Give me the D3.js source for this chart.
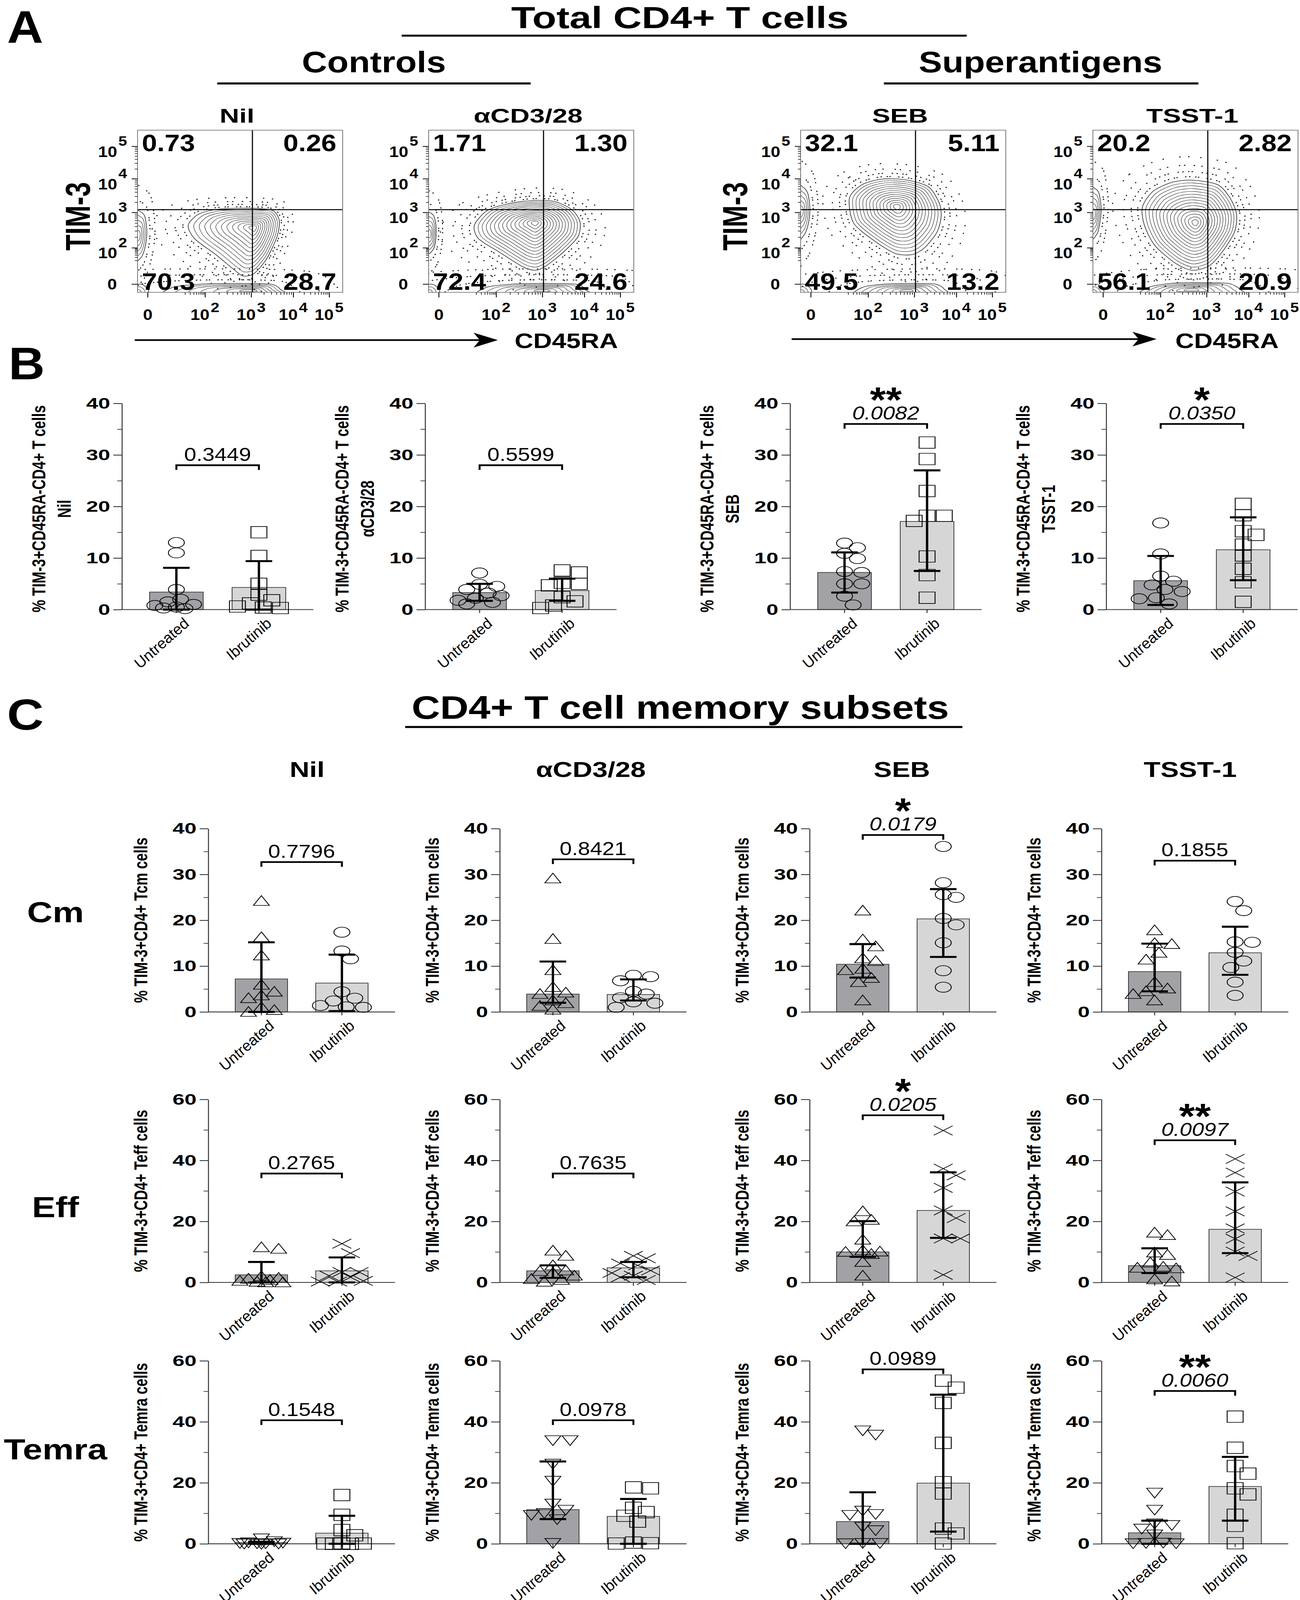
<!DOCTYPE html>
<html>
<head>
<meta charset="utf-8">
<script src="https://cdn.jsdelivr.net/npm/d3@7"></script>
<style>
html, body { margin: 0; padding: 0; background: #fff; overflow: hidden; }
#fig svg { display: block; width: 100vw; height: 100vh; }
</style>
</head>
<body>
<div id="fig"></div>
<script>
// ---------------- data ----------------
const groups = ["Untreated", "Ibrutinib"];
const stimuli = ["Nil", "αCD3/28", "SEB", "TSST-1"];

// Panel A: quadrant percentages [UL, UR, LL, LR]
const quadPct = [
  ["0.73", "0.26", "70.3", "28.7"],
  ["1.71", "1.30", "72.4", "24.6"],
  ["32.1", "5.11", "49.5", "13.2"],
  ["20.2", "2.82", "56.1", "20.9"]
];
// flow axes: decade ticks and their display position (% of plot)
const flowDecades = [0, 2, 3, 4, 5];
const flowXPos = [5, 33, 55.5, 76, 93.5];
const flowYPos = [5, 27.4, 49.2, 70, 90];
const gatePos = [56, 51];
// contour outlines (display %)
const mainOutline = [
  [[24.7,41.4],[29.9,48.3],[40.2,51.4],[56.7,51.8],[66.0,50.4],[69.1,44.2],[68.0,34.4],[62.9,20.6],[56.7,11.5],[51.5,10.1],[47.4,13.6],[38.1,23.3],[27.8,33.1]],
  [[22.3,41.4],[28.5,50.4],[38.8,54.6],[51.1,56.7],[61.4,56.0],[69.7,51.1],[73.8,43.5],[72.8,34.4],[65.6,24.7],[57.3,16.4],[52.2,13.6],[46.0,15.7],[34.6,24.7],[24.3,33.1]],
  [[23.8,58.1],[29.9,66.4],[40.0,69.9],[52.2,69.2],[62.4,65.0],[67.5,55.3],[68.5,46.9],[66.5,37.2],[60.4,27.5],[54.3,23.3],[46.1,24.0],[36.0,31.7],[25.8,42.8]],
  [[24.1,52.5],[29.2,62.2],[38.4,67.8],[48.6,69.2],[60.8,66.4],[66.9,58.1],[70.0,48.3],[69.0,37.2],[62.9,24.7],[56.7,16.4],[48.6,13.6],[40.4,17.8],[30.2,28.9],[25.1,41.4]]
];
const mainPeak = [[57, 40], [52, 43], [47, 53], [50, 43]];
const bandOutline = [
  [[15,-2],[17,3],[30,5],[48,5.5],[65,5],[69.5,2],[69,-2]],
  [[26,-2],[28,3],[40,5],[55,5.5],[72,5],[76,2],[76,-2]],
  [[28,-2],[30,3],[40,5],[55,5.5],[66,5],[70,2],[70,-2]],
  [[25,-2],[27,3],[38,5.5],[52,6],[66,5.5],[71.5,2],[71.5,-2]]
];
const bandPeak = [[56, 1], [56, 1], [52, 1], [48, 1.5]];
const edgeOutline = [
  [[-2,20],[2,22],[4,30],[4.5,38],[3.5,47],[1,50],[-2,50]],
  [[-2,24],[2,26],[3.5,33],[3.5,42],[2,48],[-2,48]],
  [[-2,33],[2,36],[4,44],[4.5,52],[3.5,61],[1,65],[-2,65]],
  [[-2,33],[2,36],[3.5,44],[4,52],[3,61],[1,64],[-2,64]]
];
const edgePeak = [[0.5, 35], [0.5, 36], [0.5, 50], [0.5, 48]];
const cornerOutline = [[-2,-2],[-2,4],[2,5],[5,2],[5,-2]];

// Panel B: % TIM-3+CD45RA-CD4+ T cells
const totalUntreated = [
  [13.0, 11.0, 3.9, 2.0, 1.5, 1.0, 0.8, 0.5, 0.3, 0.2],
  [7.1, 4.9, 4.5, 3.9, 3.2, 2.7, 2.2, 1.8, 1.4, 1.1],
  [12.9, 12.0, 10.9, 9.9, 7.4, 7.2, 5.0, 5.0, 2.6, 0.9],
  [16.8, 10.8, 6.5, 5.5, 4.8, 3.9, 3.5, 2.3, 2.1, 1.1]
];
const totalIbrutinib = [
  [15.0, 10.4, 5.0, 2.9, 1.8, 1.2, 0.6, 0.4, 0.3],
  [7.6, 7.2, 5.2, 5.0, 4.7, 2.4, 1.6, 0.8, 0.3],
  [32.4, 29.2, 23.0, 18.2, 18.2, 17.2, 10.3, 6.7, 2.3],
  [20.5, 18.3, 15.2, 14.5, 12.6, 10.5, 7.9, 5.3, 1.5]
];
const totalBar = [[3.4, 4.3], [3.3, 3.7], [7.2, 17.1], [5.6, 11.6]];
const totalLow = [[0, 0], [1.7, 1.7], [3.3, 7.5], [0.9, 5.7]];
const totalHigh = [[8.1, 9.4], [5.0, 6.0], [11.1, 27.0], [10.4, 17.9]];
const totalP = ["0.3449", "0.5599", "0.0082", "0.0350"];
const totalStars = ["", "", "**", "*"];

// Panel C, Tcm
const cmUntreated = [
  [24.2, 16.3, 12.3, 5.9, 4.4, 3.6, 3.0, 1.0, 0.4, 0.0],
  [29.1, 15.9, 9.1, 5.4, 4.2, 3.9, 2.5, 1.9, 1.3, 0.5],
  [22.1, 15.8, 14.3, 11.7, 11.1, 9.4, 9.1, 7.4, 6.5, 2.5],
  [17.8, 15.0, 14.8, 12.9, 11.4, 6.5, 5.1, 4.5, 3.9, 2.5]
];
const cmIbrutinib = [
  [17.4, 13.3, 11.6, 4.4, 3.0, 2.4, 1.4, 1.1, 1.0],
  [8.0, 7.7, 6.8, 4.5, 3.9, 3.1, 2.2, 1.9, 1.0],
  [36.1, 28.2, 25.6, 25.0, 20.4, 19.0, 15.1, 9.0, 5.4],
  [24.1, 22.1, 15.3, 15.2, 13.0, 11.1, 9.7, 6.5, 3.6]
];
const cmBar = [[7.2, 6.3], [3.9, 3.8], [10.4, 20.3], [8.8, 12.9]];
const cmLow = [[0, 0.2], [2.0, 2.5], [7.5, 12.0], [4.5, 8.1]];
const cmHigh = [[15.2, 12.5], [11.0, 7.1], [14.8, 26.8], [14.9, 18.6]];
const cmP = ["0.7796", "0.8421", "0.0179", "0.1855"];
const cmStars = ["", "", "*", ""];

// Panel C, Teff
const effUntreated = [
  [11.5, 11.0, 2.0, 1.5, 1.2, 0.8, 0.5, 0.2, 0.0, 0.0],
  [10.4, 8.7, 5.6, 3.9, 3.7, 3.1, 2.2, 1.1, 0.8, 0.2],
  [23.3, 20.5, 20.0, 14.0, 10.5, 10.1, 10.0, 9.3, 6.7, 2.2],
  [16.3, 15.5, 9.8, 9.0, 6.5, 5.1, 4.8, 4.6, 1.0, 0.3]
];
const effIbrutinib = [
  [12.7, 9.6, 3.4, 3.4, 2.2, 1.7, 0.5, 0.3, 0.3],
  [8.7, 7.9, 6.2, 5.6, 3.9, 3.1, 2.2, 1.7, 0.8],
  [49.8, 37.3, 35.1, 31.0, 23.6, 21.1, 14.4, 14.4, 2.5],
  [40.5, 36.0, 29.8, 23.3, 17.7, 14.3, 10.1, 8.7, 1.6]
];
const effBar = [[2.5, 3.8], [3.8, 4.8], [10.0, 23.6], [5.5, 17.4]];
const effLow = [[0, 0], [1.5, 1.7], [8.4, 14.6], [3.1, 9.6]];
const effHigh = [[6.7, 8.2], [5.6, 6.7], [20.1, 36.1], [11.2, 32.8]];
const effP = ["0.2765", "0.7635", "0.0205", "0.0097"];
const effStars = ["", "", "*", "**"];

// Panel C, Temra
const temraUntreated = [
  [1.8, 0.9, 0.5, 0.4, 0.3, 0.2, 0.2, 0.1, 0.1, 0.0],
  [34.0, 34.0, 26.3, 20.7, 13.2, 11.2, 10.1, 9.5, 8.1, 0.3],
  [37.2, 35.8, 10.9, 9.8, 9.5, 5.6, 4.5, 0.3, 0.3, 0.2],
  [16.8, 11.2, 6.7, 6.2, 5.0, 3.1, 0.4, 0.3, 0.2, 0.2]
];
const temraIbrutinib = [
  [16.0, 9.5, 4.5, 2.8, 0.2, 0.1, 0.1, 0.0, 0.0],
  [18.5, 18.2, 11.8, 10.4, 9.2, 7.3, 0.4, 0.2, 0.1],
  [53.5, 51.2, 46.2, 33.1, 20.2, 16.5, 5.0, 3.4, 0.1],
  [41.7, 31.5, 25.5, 23.0, 18.2, 16.2, 9.5, 5.9, 0.2]
];
const temraBar = [[0.4, 3.5], [11.2, 9.0], [7.3, 19.9], [3.6, 18.8]];
const temraLow = [[0, 0], [8.1, 0], [0, 4.0], [0, 7.6]];
const temraHigh = [[0.7, 9.2], [27.0, 14.7], [16.9, 48.9], [7.6, 28.5]];
const temraP = ["0.1548", "0.0978", "0.0989", "0.0060"];
const temraStars = ["", "", "", "**"];

// ---------------- layout ----------------
const W = 3327, H = 4756;
const SANS = "'Liberation Sans', Arial, Helvetica, sans-serif";
const flowLeft = [352, 1097, 2049, 2797], flowTop = 387, flowW = 525, flowH = 482;
const axisB = [312, 1088, 2022, 2831];
const axisC = [533, 1279, 2072, 2819];
const darkBar = "#a2a2a6", lightBar = "#d6d6d6";

const svg = d3.select("#fig").append("svg")
  .attr("viewBox", `0 0 ${W} ${H}`)
  .attr("preserveAspectRatio", "none");
svg.append("rect").attr("width", W).attr("height", H).attr("fill", "#fff");

// text helper: optional horizontal stretch sx like the original export
function txt(sel, x, y, s, o) {
  const g = sel.append("g")
    .attr("transform", `translate(${x},${y}) scale(${o.sx || 1},1)` + (o.rot ? ` rotate(${o.rot})` : ""));
  g.append("text")
    .attr("text-anchor", o.anchor || "middle")
    .attr("font-family", SANS)
    .attr("font-size", o.size)
    .attr("font-weight", o.weight || "normal")
    .attr("font-style", o.italic ? "italic" : "normal")
    .attr("fill", "#000")
    .text(s);
  return g;
}
function hline(x1, x2, y, w) {
  svg.append("line").attr("x1", x1).attr("x2", x2).attr("y1", y).attr("y2", y)
    .attr("stroke", "#000").attr("stroke-width", w);
}

// ---------------- headings ----------------
txt(svg, 18, 128, "A", {size: 135, weight: "bold", anchor: "start", sx: 0.95});
txt(svg, 22, 1128, "B", {size: 135, weight: "bold", anchor: "start", sx: 0.95});
txt(svg, 18, 2169, "C", {size: 130, weight: "bold", anchor: "start", sx: 1.0});

txt(svg, 1740, 84, "Total CD4+ T cells", {size: 90, weight: "bold", sx: 1.12});
hline(1028, 2474, 106, 6);
txt(svg, 957, 215, "Controls", {size: 88, weight: "bold", sx: 1.02});
hline(556, 1358, 248, 6);
txt(svg, 2663, 215, "Superantigens", {size: 88, weight: "bold", sx: 1.02});
hline(2262, 3067, 248, 6);

txt(svg, 1741, 2137, "CD4+ T cell memory subsets", {size: 96, weight: "bold", sx: 1.05});
hline(1037, 2463, 2161, 6);
const colTitleX = [786, 1512, 2308, 3046];
stimuli.forEach((s, i) => txt(svg, colTitleX[i], 2310, s, {size: 65, weight: "bold", sx: 1.08}));
txt(svg, 142, 2741, "Cm", {size: 86, weight: "bold", sx: 1.05});
txt(svg, 142, 3618, "Eff", {size: 86, weight: "bold", sx: 1.05});
txt(svg, 142, 4338, "Temra", {size: 86, weight: "bold", sx: 1.05});

// ---------------- panel A: flow plots ----------------
function arrow(x1, x2, y) {
  svg.append("line").attr("x1", x1).attr("x2", x2 - 40).attr("y1", y).attr("y2", y)
    .attr("stroke", "#000").attr("stroke-width", 5);
  svg.append("path")
    .attr("d", `M${x2},${y} L${x2 - 62},${y - 22} L${x2 - 46},${y} L${x2 - 62},${y + 22} Z`)
    .attr("fill", "#000");
}
arrow(345, 1274, 1011);
arrow(2026, 2960, 1008);
txt(svg, 1317, 1035, "CD45RA", {size: 63, weight: "bold", anchor: "start", sx: 1.05});
txt(svg, 3008, 1035, "CD45RA", {size: 63, weight: "bold", anchor: "start", sx: 1.05});
txt(svg, 230, 643, "TIM-3", {size: 78, weight: "bold", sx: 1.15, rot: -90});
txt(svg, 1912, 643, "TIM-3", {size: 78, weight: "bold", sx: 1.15, rot: -90});

const dotPatterns = ["1 9 1 15 1 6 1 21", "1 14 1 8 1 25 1 11", "1 19 1 30 1 12 1 24", "1 30 1 42 1 22"];

function flowPlot(i) {
  const left = flowLeft[i], bottom = flowTop + flowH;
  const x = d3.scaleLinear().domain([0, 100]).range([left, left + flowW]);
  const y = d3.scaleLinear().domain([0, 100]).range([bottom, flowTop]);
  const xDec = d3.scaleLinear().domain(flowDecades).range(flowXPos);
  const yDec = d3.scaleLinear().domain(flowDecades).range(flowYPos);
  const g = svg.append("g");
  const clipId = "clip" + i;
  g.append("clipPath").attr("id", clipId).append("rect")
    .attr("x", left).attr("y", flowTop).attr("width", flowW).attr("height", flowH);
  const inner = g.append("g").attr("clip-path", `url(#${clipId})`);
  const line = d3.line().x(d => x(d[0])).y(d => y(d[1])).curve(d3.curveCardinalClosed.tension(0.2));
  const shrink = (outline, peak, t) => outline.map(p => [peak[0] + (p[0] - peak[0]) * t, peak[1] + (p[1] - peak[1]) * t]);

  function rings(outline, peak, n) {
    d3.range(n).forEach(k => {
      const t = 1 - k / n;
      inner.append("path").attr("d", line(shrink(outline, peak, t)))
        .attr("fill", "none").attr("stroke", "#3a3a3a").attr("stroke-width", k === 0 ? 1.8 : 1.3);
    });
  }
  function halo(outline, peak, ts) {
    ts.forEach((t, k) => {
      inner.append("path").attr("d", line(shrink(outline, peak, t)))
        .attr("fill", "none").attr("stroke", "#111").attr("stroke-width", 3)
        .attr("stroke-dasharray", dotPatterns[k % dotPatterns.length])
        .attr("stroke-dashoffset", 7 * k + 3 * i).attr("stroke-linecap", "round");
    });
  }
  halo(mainOutline[i], mainPeak[i], [1.08, 1.2, 1.35, 1.55]);
  halo(bandOutline[i], bandPeak[i], [1.5, 2.2, 3.0]);
  halo(edgeOutline[i], edgePeak[i], [1.4, 2.0]);
  rings(mainOutline[i], mainPeak[i], [12, 15, 14, 15][i]);
  rings(bandOutline[i], bandPeak[i], 7);
  rings(edgeOutline[i], edgePeak[i], 5);
  rings(cornerOutline, [0, 0], 3);

  // gates
  inner.append("line").attr("x1", x(gatePos[0])).attr("x2", x(gatePos[0]))
    .attr("y1", flowTop).attr("y2", bottom).attr("stroke", "#000").attr("stroke-width", 2.8);
  inner.append("line").attr("x1", left).attr("x2", left + flowW)
    .attr("y1", y(gatePos[1])).attr("y2", y(gatePos[1])).attr("stroke", "#000").attr("stroke-width", 2.8);
  g.append("rect").attr("x", left).attr("y", flowTop).attr("width", flowW).attr("height", flowH)
    .attr("fill", "none").attr("stroke", "#777").attr("stroke-width", 2);

  // ticks
  const minor = [];
  [1, 2, 3, 4].forEach(d => d3.range(2, 10).forEach(m => minor.push(d + Math.log10(m))));
  minor.forEach(v => {
    g.append("line").attr("x1", x(xDec(v))).attr("x2", x(xDec(v))).attr("y1", bottom).attr("y2", bottom + 7)
      .attr("stroke", "#000").attr("stroke-width", 1.6);
    g.append("line").attr("y1", y(yDec(v))).attr("y2", y(yDec(v))).attr("x1", left).attr("x2", left - 7)
      .attr("stroke", "#000").attr("stroke-width", 1.6);
  });
  flowDecades.forEach(d => {
    const px = x(xDec(d)), py = y(yDec(d));
    g.append("line").attr("x1", px).attr("x2", px).attr("y1", bottom).attr("y2", bottom + 15)
      .attr("stroke", "#000").attr("stroke-width", 2.2);
    g.append("line").attr("y1", py).attr("y2", py).attr("x1", left).attr("x2", left - 15)
      .attr("stroke", "#000").attr("stroke-width", 2.2);
    if (d === 0) {
      txt(g, px, bottom + 82, "0", {size: 44, weight: "bold"});
      txt(g, left - 65, py + 15, "0", {size: 44, weight: "bold"});
    } else {
      txt(g, px + 11, bottom + 82, "10", {size: 44, weight: "bold", anchor: "end"});
      txt(g, px + 14, bottom + 59, String(d), {size: 40, weight: "bold", anchor: "start"});
      txt(g, left - 52, py + 31, "10", {size: 44, weight: "bold", anchor: "end"});
      txt(g, left - 49, py - 2, String(d), {size: 40, weight: "bold", anchor: "start"});
    }
  });

  // quadrant percentages
  const q = quadPct[i];
  txt(g, left + 11, flowTop + 62, q[0], {size: 70, weight: "bold", anchor: "start"});
  txt(g, left + flowW - 16, flowTop + 62, q[1], {size: 70, weight: "bold", anchor: "end"});
  txt(g, left + 11, bottom - 8, q[2], {size: 70, weight: "bold", anchor: "start"});
  txt(g, left + flowW - 16, bottom - 8, q[3], {size: 70, weight: "bold", anchor: "end"});

  txt(g, left + flowW / 2 - 8, 365, stimuli[i], {size: 58, weight: "bold", sx: 1.2});
}
d3.range(4).forEach(flowPlot);

// ---------------- bar + scatter panels ----------------
const markerPath = {
  circle: "M-17,0a17,15 0 1,0 34,0a17,15 0 1,0 -34,0",
  square: "M-17,-17H17V17H-17Z",
  triangle: "M0,-16L17,13H-17Z",
  triangleDown: "M0,16L17,-13H-17Z",
  cross: "M-20,-14L20,14M-20,14L20,-14"
};

function swarm(vals, y, cx) {
  const order = d3.range(vals.length).sort((a, b) => vals[b] - vals[a]);
  const cand = [0, 11, -11, 22, -22, 33, -33, 44, -44, 55, -55];
  const placed = [], out = new Array(vals.length);
  order.forEach(i => {
    const py = y(vals[i]);
    let best = 0, bestScore = -Infinity;
    for (const c of cand) {
      let minD = Infinity;
      placed.forEach(p => { minD = Math.min(minD, Math.hypot((p.x - c) / 34, (p.y - py) / 30)); });
      if (minD >= 1) { best = c; break; }
      if (minD > bestScore) { bestScore = minD; best = c; }
    }
    placed.push({x: best, y: py});
    out[i] = [cx + best, py];
  });
  return out;
}

function barPanel(o) {
  const g = svg.append("g");
  const y = d3.scaleLinear().domain([0, o.max]).range([o.y0, o.yTop]);
  const x = d3.scaleBand().domain(groups).range([o.ax, o.ax + o.len]).paddingInner(0.35).paddingOuter(0.335);
  const cx = k => x(groups[k]) + x.bandwidth() / 2;

  // bars
  g.selectAll("rect.bar").data(o.bar).join("rect").attr("class", "bar")
    .attr("x", (d, k) => x(groups[k])).attr("width", x.bandwidth())
    .attr("y", d => y(d)).attr("height", d => o.y0 - y(d))
    .attr("fill", (d, k) => k === 0 ? darkBar : lightBar)
    .attr("stroke", "#3a3a3a").attr("stroke-width", 2);

  // axes
  const ya = g.append("g").attr("transform", `translate(${o.ax},0)`)
    .call(d3.axisLeft(y).tickValues(o.major).tickSize(22).tickPadding(3).tickSizeOuter(0));
  ya.select(".domain").attr("stroke", "#333").attr("stroke-width", 2.5);
  ya.selectAll(".tick line").attr("stroke", "#333").attr("stroke-width", 2.5);
  ya.selectAll("text").attr("font-family", SANS).attr("font-size", 46).attr("font-weight", "bold")
    .attr("fill", "#000").attr("transform", "scale(1.2,1)");
  const ym = g.append("g").attr("transform", `translate(${o.ax},0)`)
    .call(d3.axisLeft(y).tickValues(o.minor).tickSize(12).tickFormat("").tickSizeOuter(0));
  ym.select(".domain").remove();
  ym.selectAll(".tick line").attr("stroke", "#333").attr("stroke-width", 2);
  const xa = g.append("g").attr("transform", `translate(0,${o.y0})`)
    .call(d3.axisBottom(x).tickSize(10).tickFormat("").tickSizeOuter(0));
  xa.select(".domain").attr("stroke", "#333").attr("stroke-width", 2.5)
    .attr("d", `M${o.ax},0H${o.ax + o.len}`);
  xa.selectAll(".tick line").attr("stroke", "#333").attr("stroke-width", 2.5);

  // points
  [o.U, o.I].forEach((vals, k) => {
    swarm(vals, y, cx(k)).forEach(([px, py]) => {
      g.append("g").attr("transform", `translate(${px},${py}) scale(1.2,1)`)
        .append("path").attr("d", markerPath[o.shapes[k]])
        .attr("fill", "none").attr("stroke", "#000").attr("stroke-width", 1.9);
    });
  });

  // error bars
  [0, 1].forEach(k => {
    const c = cx(k), lo = y(o.low[k]), hi = y(o.high[k]);
    g.append("line").attr("x1", c).attr("x2", c).attr("y1", lo).attr("y2", hi)
      .attr("stroke", "#000").attr("stroke-width", 6);
    [lo, hi].forEach(v => g.append("line").attr("x1", c - 34).attr("x2", c + 34).attr("y1", v).attr("y2", v)
      .attr("stroke", "#000").attr("stroke-width", 6));
  });

  // significance bracket with p value (and stars) as one text block
  const yb = y(o.bracket), x1 = cx(0), x2 = cx(1), mid = (x1 + x2) / 2;
  g.append("path").attr("d", `M${x1},${yb + 14}V${yb}H${x2}V${yb + 14}`)
    .attr("fill", "none").attr("stroke", "#000").attr("stroke-width", 5);
  const t = g.append("text").attr("text-anchor", "middle").attr("font-family", SANS).attr("fill", "#000");
  if (o.star) {
    t.append("tspan").attr("x", mid).attr("y", yb - 35)
      .attr("font-size", 105).attr("font-weight", "bold").text(o.star);
  }
  t.append("tspan").attr("x", mid).attr("y", yb - 13)
    .attr("font-size", 56).attr("font-style", o.star ? "italic" : "normal").text(o.p);

  // x labels
  groups.forEach((s, k) => txt(g, cx(k) + 36, o.y0 + 44, s, {size: 42, italic: true, anchor: "end", rot: -46}));

  // y label
  const yc = (o.y0 + o.yTop) / 2 + (o.yShift || 0);
  o.ylab.forEach((s, j) => txt(g, o.ax + o.ylabX[j], yc, s, {size: 42, weight: "bold", sx: 1.15, rot: -90}));
}

const rows = [
  {U: totalUntreated, I: totalIbrutinib, bar: totalBar, low: totalLow, high: totalHigh, p: totalP, st: totalStars,
   axes: axisB, y0: 1812, yTop: 1199, max: 40, len: 490, major: [0, 10, 20, 30, 40], minor: [5, 15, 25, 35],
   bracket: [28, 28, 36, 36], shapes: ["circle", "square"], lab: s => ["% TIM-3+CD45RA-CD4+ T cells", s],
   labX: [-196, -131], yShift: 7},
  {U: cmUntreated, I: cmIbrutinib, bar: cmBar, low: cmLow, high: cmHigh, p: cmP, st: cmStars,
   axes: axisC, y0: 3008, yTop: 2463, max: 40, len: 478, major: [0, 10, 20, 30, 40], minor: [5, 15, 25, 35],
   bracket: [32.7, 33.3, 38.6, 33], shapes: ["triangle", "circle"], lab: () => ["% TIM-3+CD4+ Tcm cells"], labX: [-156]},
  {U: effUntreated, I: effIbrutinib, bar: effBar, low: effLow, high: effHigh, p: effP, st: effStars,
   axes: axisC, y0: 3812, yTop: 3268, max: 60, len: 478, major: [0, 20, 40, 60], minor: [10, 30, 50],
   bracket: [35.7, 35.7, 54.8, 46.6], shapes: ["triangle", "cross"], lab: () => ["% TIM-3+CD4+ Teff cells"], labX: [-156]},
  {U: temraUntreated, I: temraIbrutinib, bar: temraBar, low: temraLow, high: temraHigh, p: temraP, st: temraStars,
   axes: axisC, y0: 4589, yTop: 4045, max: 60, len: 478, major: [0, 20, 40, 60], minor: [10, 30, 50],
   bracket: [40.5, 40.5, 57.2, 50.1], shapes: ["triangleDown", "square"], lab: () => ["% TIM-3+CD4+ Temra cells"], labX: [-156]}
];

rows.forEach(r => {
  stimuli.forEach((s, i) => barPanel({
    ax: r.axes[i], y0: r.y0, yTop: r.yTop, max: r.max, len: r.len, major: r.major, minor: r.minor,
    U: r.U[i], I: r.I[i], bar: r.bar[i], low: r.low[i], high: r.high[i],
    p: r.p[i], star: r.st[i], bracket: r.bracket[i], shapes: r.shapes,
    ylab: r.lab(s), ylabX: r.labX, yShift: r.yShift
  }));
});
</script>
</body>
</html>
